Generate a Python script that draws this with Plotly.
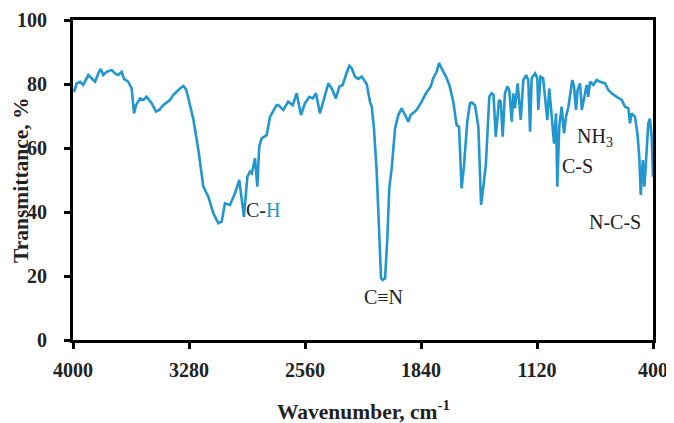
import plotly.graph_objects as go

wavenumber = [3994, 3977, 3957, 3936, 3905, 3884, 3863, 3843, 3828, 3812, 3791, 3760, 3739, 3719, 3698,
              3683, 3657, 3636, 3621, 3609, 3584, 3564, 3543, 3512, 3485, 3464, 3440, 3398, 3377, 3336,
              3315, 3300, 3294, 3253, 3222, 3191, 3160, 3129, 3098, 3077, 3057, 3026, 2995, 2968, 2939,
              2918, 2901, 2890, 2870, 2856, 2844, 2829, 2798, 2777, 2767, 2736, 2726, 2695, 2664, 2636,
              2612, 2585, 2560, 2533, 2512, 2492, 2467, 2446, 2415, 2394, 2368, 2347, 2326, 2306, 2285,
              2270, 2250, 2229, 2208, 2177, 2157, 2146, 2132, 2115, 2099, 2088, 2078, 2063, 2049, 2037,
              2022, 2001, 1981, 1960, 1939, 1919, 1904, 1867, 1836, 1809, 1780, 1764, 1743, 1728, 1712,
              1685, 1664, 1640, 1619, 1604, 1588, 1573, 1553, 1546, 1536, 1525, 1505, 1484, 1467, 1453,
              1437, 1416, 1401, 1390, 1376, 1356, 1345, 1333, 1319, 1304, 1292, 1277, 1267, 1257, 1240,
              1221, 1205, 1188, 1174, 1163, 1153, 1132, 1118, 1112, 1098, 1082, 1066, 1056, 1044, 1029,
              1014, 1002, 994, 982, 967, 952, 940, 925, 915, 901, 890, 878, 868, 853, 842,
              828, 812, 802, 791, 770, 750, 729, 698, 677, 656, 626, 594, 574, 553, 543,
              533, 512, 497, 485, 476, 463, 453, 443, 429, 419, 408, 400]
transmittance = [77.5, 80.2, 80.7, 79.7, 82.8, 81.8, 80.7, 83.3, 84.7, 82.8, 83.8, 84.4, 83.3, 82.8, 83.8,
                 81.6, 80.7, 78.6, 70.8, 73.4, 75.5, 75.0, 76.0, 74.0, 71.4, 71.9, 73.4, 75.0, 76.6, 78.6,
                 79.4, 78.5, 77.6, 69.0, 59.4, 47.9, 44.8, 39.6, 36.5, 37.0, 42.7, 42.2, 45.8, 50.0, 38.5,
                 51.0, 52.6, 52.1, 56.8, 47.9, 60.4, 63.0, 64.0, 69.8, 70.8, 73.4, 73.4, 71.9, 74.5, 73.4,
                 77.1, 70.3, 74.0, 76.0, 75.5, 77.1, 70.8, 74.5, 80.2, 78.6, 75.5, 79.2, 79.7, 82.8, 85.7,
                 84.9, 82.3, 81.6, 82.3, 80.0, 74.5, 73.0, 66.1, 52.6, 31.8, 19.3, 18.75, 19.3, 31.8, 47.4,
                 53.6, 66.1, 70.3, 72.4, 70.3, 68.2, 70.3, 71.9, 74.5, 77.1, 79.2, 81.8, 83.8, 86.5, 84.9,
                 82.3, 79.7, 74.5, 67.2, 66.6, 47.4, 54.5, 68.2, 70.8, 74.0, 74.2, 73.4, 66.6, 42.2, 47.9,
                 55.2, 76.0, 77.1, 76.6, 63.5, 75.0, 74.5, 63.5, 77.1, 79.2, 78.1, 68.2, 77.1, 72.4, 80.2,
                 68.75, 81.25, 82.8, 81.25, 65.1, 81.8, 83.3, 81.8, 71.9, 82.3, 81.8, 74.0, 68.75, 78.6, 70.8,
                 61.4, 70.8, 47.9, 66.6, 72.9, 64.6, 69.8, 72.9, 76.0, 81.25, 79.2, 71.9, 78.1, 80.2, 71.9,
                 76.0, 79.7, 76.0, 80.7, 79.7, 81.25, 80.7, 80.2, 78.1, 77.1, 76.0, 75.0, 72.9, 72.4, 67.7,
                 70.8, 69.8, 64.6, 57.3, 45.3, 56.25, 47.9, 56.25, 67.7, 69.2, 63.5, 51.0]

x_ticks = [4000, 3280, 2560, 1840, 1120, 400]
y_ticks = [0, 20, 40, 60, 80, 100]

labels = ["C-<span style='color:#2196CF'>H</span>", "C≡N", "N-C-S", "C-S", "NH<sub>3</sub>"]
label_x = [2821, 2070, 633, 866, 760]
label_y = [40.6, 13.4, 36.9, 54.4, 63.4]

x_title = "Wavenumber, cm<sup>-1</sup>"
y_title = "Transmittance, %"

FONT = "Liberation Serif, Times New Roman, serif"
LINE_COLOR = "#2196CF"
TEXT = "#222222"

fig = go.Figure()
fig.add_trace(go.Scatter(x=wavenumber, y=transmittance, mode="lines",
                         line=dict(color=LINE_COLOR, width=2.6), showlegend=False,
                         hoverinfo="skip"))

for t, lx, ly in zip(labels, label_x, label_y):
    fig.add_annotation(x=lx, y=ly, text=t, showarrow=False,
                       font=dict(family=FONT, size=20, color=TEXT))

# axis titles placed as annotations for exact positioning
fig.add_annotation(xref="paper", yref="paper", x=0.5, y=0, yshift=-70, text=x_title,
                   showarrow=False, xanchor="center", yanchor="middle",
                   font=dict(family=FONT, size=21.5, color=TEXT, weight="bold"))
fig.add_annotation(xref="paper", yref="paper", x=0, y=0.5, xshift=-52, text=y_title,
                   showarrow=False, textangle=-90, xanchor="center", yanchor="middle",
                   font=dict(family=FONT, size=21.5, color=TEXT, weight="bold"))

axis_common = dict(showgrid=False, zeroline=False, showline=True, linecolor="black",
                   linewidth=3, mirror=True, ticks="outside", tickcolor="black",
                   tickwidth=2.5, ticklen=6, automargin=False)

fig.update_xaxes(range=[4000, 400], tickvals=x_ticks, ticktext=[str(v) for v in x_ticks],
                 tickfont=dict(family=FONT, size=20, color=TEXT, weight="bold"),
                 ticklabelstandoff=4, **axis_common)
fig.update_yaxes(range=[0, 100], tickvals=y_ticks,
                 tickfont=dict(family=FONT, size=20, color=TEXT, weight="bold"),
                 ticklabelstandoff=13, **axis_common)

# page body adds an 8px offset, so the figure is sized to fit the 674x423 window
fig.update_layout(width=666, height=415, margin=dict(l=65, r=21, t=12, b=83),
                  plot_bgcolor="white", paper_bgcolor="white")

fig.write_html("out.html")
